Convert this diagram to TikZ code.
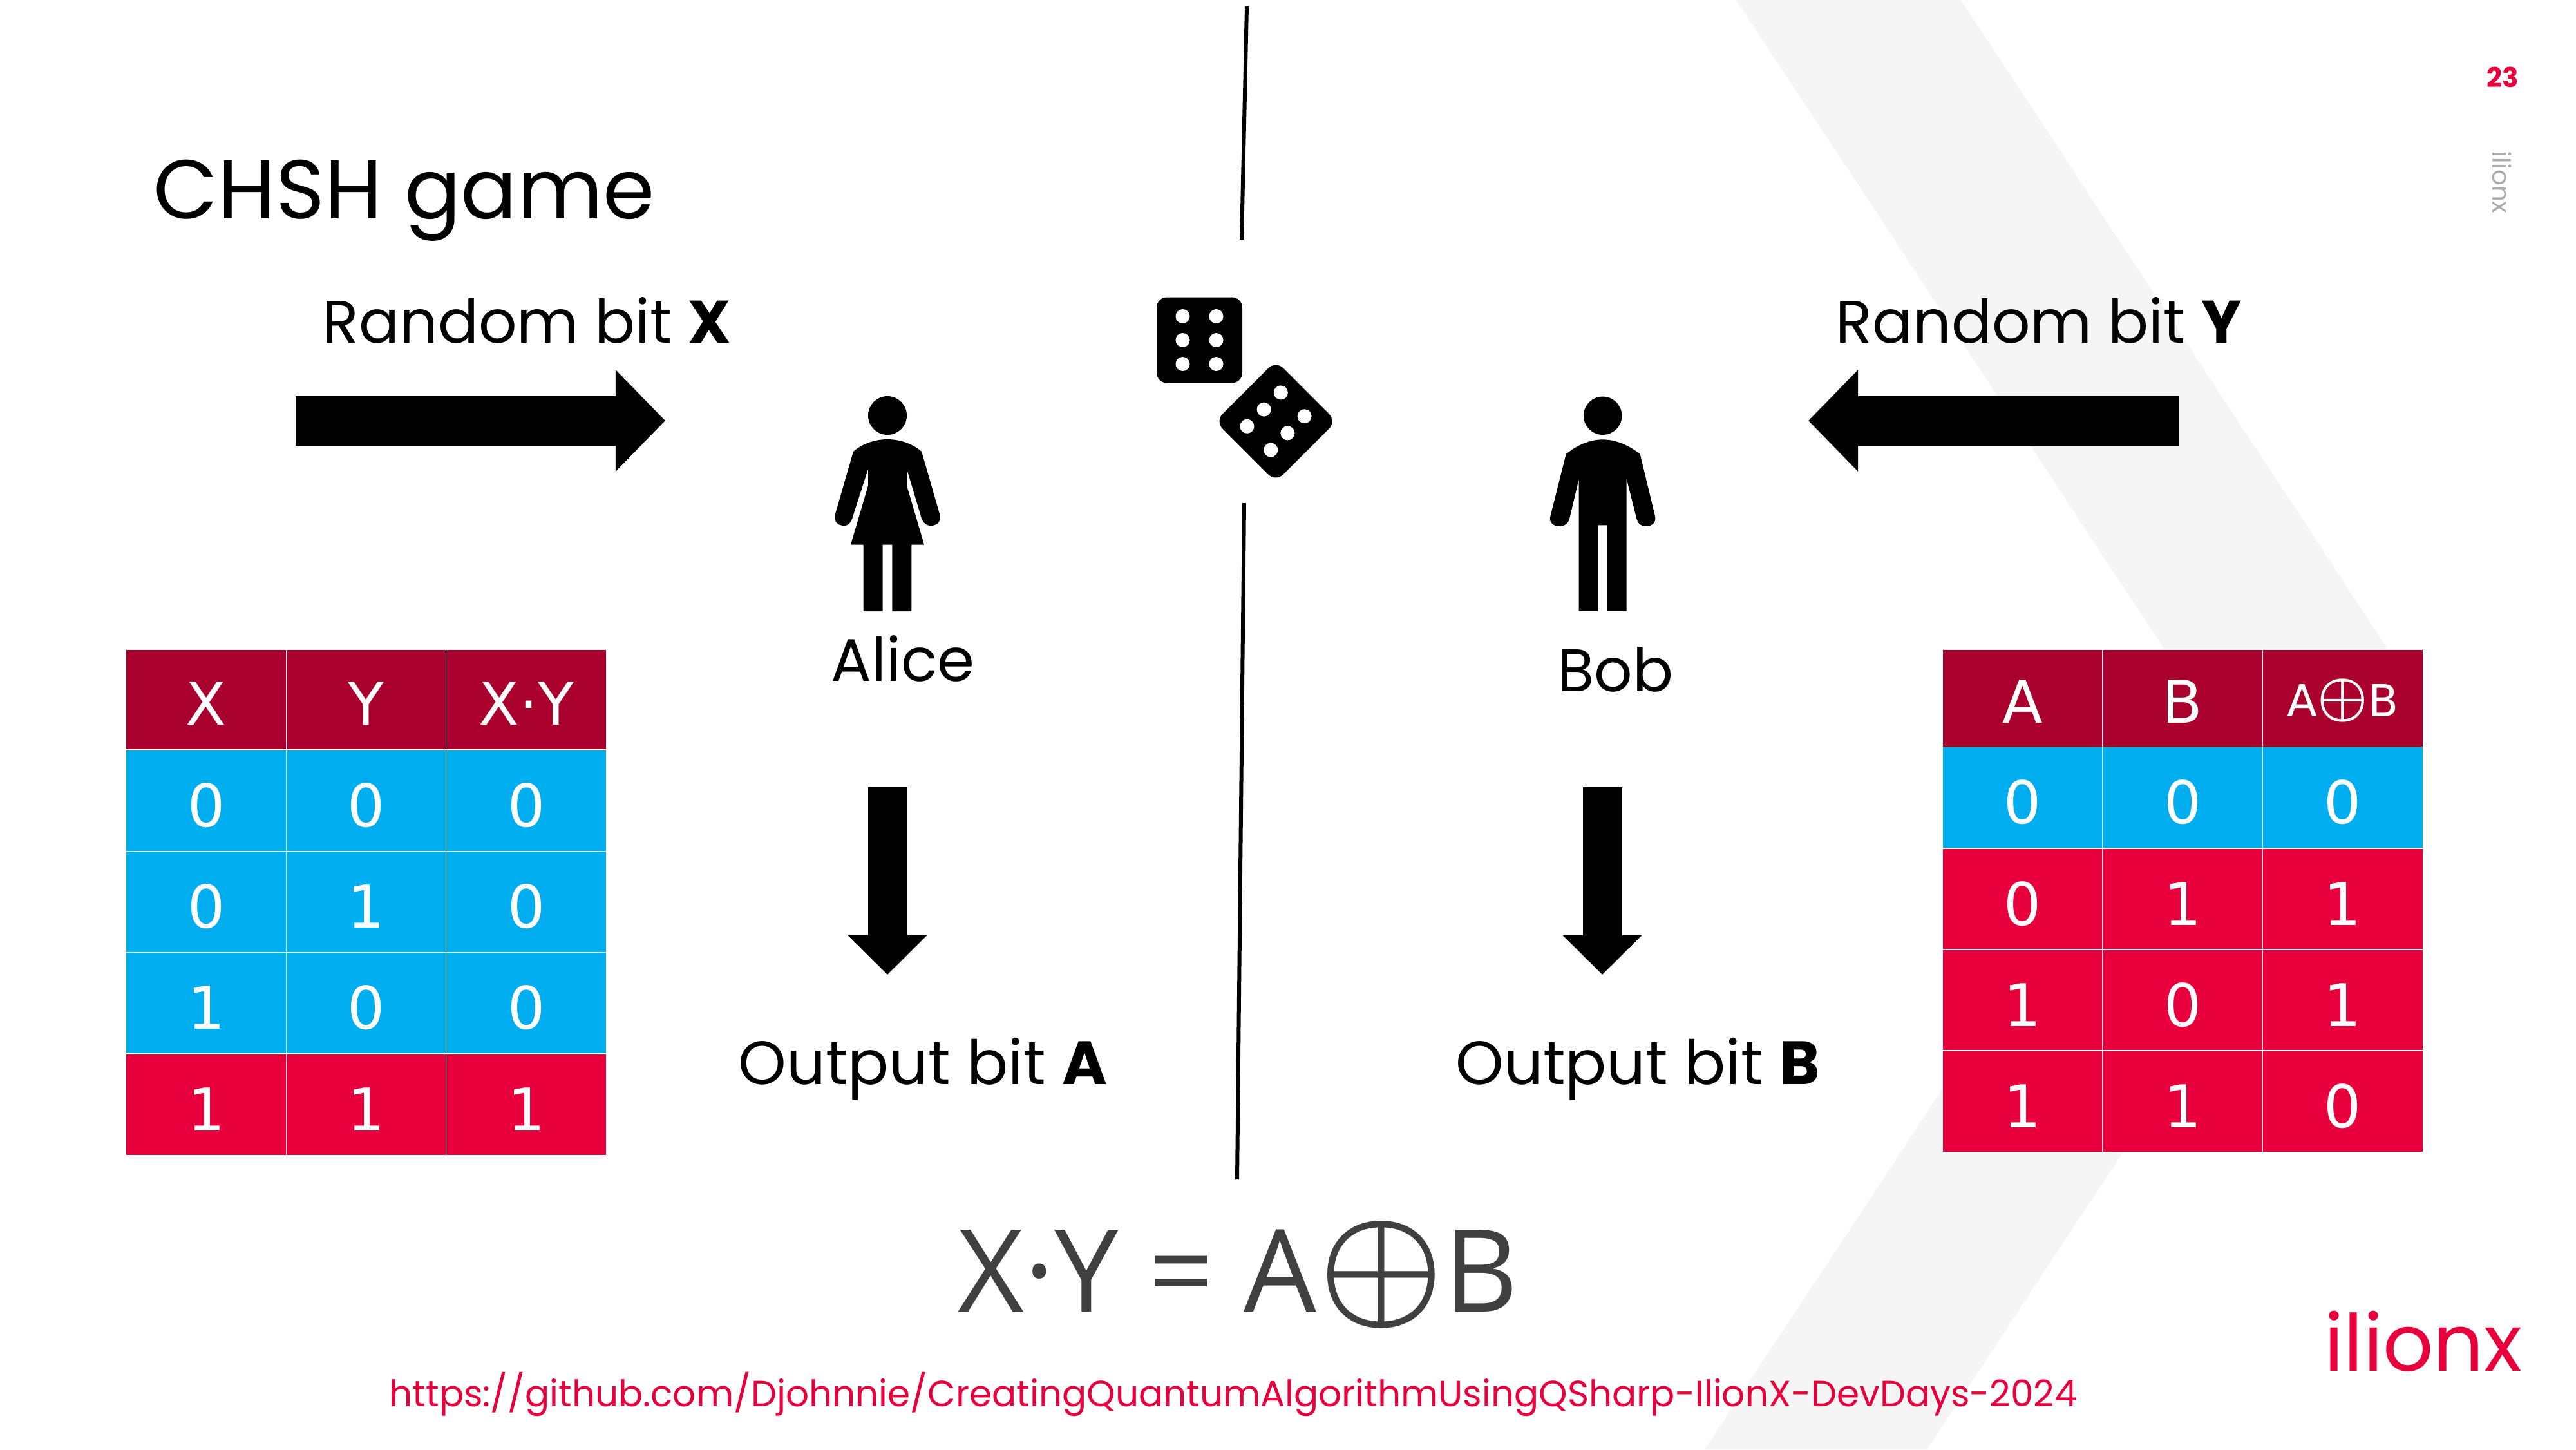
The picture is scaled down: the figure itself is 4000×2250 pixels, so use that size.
\documentclass[tikz,border=0pt]{standalone}
\usepackage{fontspec}
\usepackage{xcolor}
\usetikzlibrary{arrows.meta}
\setmainfont{Poppins}
\newfontfamily\cellfont{DejaVu Sans}
\newfontfamily\formulafont{Open Sans}
\definecolor{ilionxred}{HTML}{E8003C}
\definecolor{headred}{HTML}{AA002D}
\definecolor{cellblue}{HTML}{00AEEF}
\definecolor{chevrongray}{HTML}{F5F5F5}
\definecolor{formulagray}{HTML}{404040}
\tikzset{
  headcell/.style={draw=white, line width=.3pt, fill=headred, text=white, inner sep=0pt,
    minimum width=2.487cm, text height=.78cm, text depth=0pt, font=\cellfont\fontsize{26}{30}\selectfont},
  bluecell/.style={headcell, fill=cellblue, minimum height=1.57cm, text height=.81cm},
  redcell/.style={bluecell, fill=ilionxred},
  label/.style={anchor=base west, inner sep=0pt, font=\fontsize{26.5}{32}\selectfont},
  outlabel/.style={label, font=\fontsize{27}{32}\selectfont},
  bigarrow/.style={line width=.77cm, -{Triangle[length=.77cm,width=1.53cm]}},
  downarrow/.style={line width=.61cm, -{Triangle[length=.61cm,width=1.19cm]}},
  divider/.style={line width=.06cm}
}
\newcommand{\dicedots}{
  \fill[rounded corners=.16cm] (-66.5,-66.5) rectangle (66.5,66.5);
  \fill[white] (-26,-37) circle (11);
  \fill[white] (26,-37) circle (11);
  \fill[white] (-26,0) circle (11);
  \fill[white] (26,0) circle (11);
  \fill[white] (-26,37) circle (11);
  \fill[white] (26,37) circle (11);
}
\newcommand{\ringplus}[2]{\raisebox{#2}{\scalebox{#1}{\fontsize{10}{12}\selectfont\boldmath$\oplus$}}}
\begin{document}
\begin{tikzpicture}[x=.01cm,y=-.01cm]
 \useasboundingbox (0,0) rectangle (4000,2250);
 % background chevron
 \fill[chevrongray] (2696,0) -- (3045,0) -- (3760,1087) -- (2992,2250) -- (2647,2250) -- (3414,1088) -- cycle;

 % titles
 \node[label, font=\fontsize{36.8}{42}\selectfont] (title) at (238,339) {CHSH game};
 \node[label, text=ilionxred, font=\bfseries\fontsize{12}{14}\selectfont] (pagenum) at (3861,135) {23};
 \node[rotate=-90, text=black!33, font=\fontsize{11}{13}\selectfont] (sidelogo) at (3885,283) {ilionx};
 \node[label, text=ilionxred, font=\fontsize{34.9}{40}\selectfont] (logo) at (3609,2128) {ilionx};

 % labels
 \node[label] (randx) at (500,532) {Random bit \textbf{X}};
 \node[label] (randy) at (2850,532) {Random bit \textbf{Y}};
 \node[label] (alice) at (1290,1057) {Alice};
 \node[label] (bob) at (2418,1073) {Bob};
 \node[outlabel] (outa) at (1146,1683) {Output bit \textbf{A}};
 \node[outlabel] (outb) at (2260,1683) {Output bit \textbf{B}};

 % arrows
 \coordinate (xtail) at (459,653);
 \coordinate (xtip) at (1033,653);
 \coordinate (ytail) at (3384,653);
 \coordinate (ytip) at (2808,653);
 \coordinate (atail) at (1378,1222);
 \coordinate (atip) at (1378,1513);
 \coordinate (btail) at (2488,1222);
 \coordinate (btip) at (2488,1513);
 \draw[bigarrow] (xtail) -- (xtip);
 \draw[bigarrow] (ytail) -- (ytip);
 \draw[downarrow] (atail) -- (atip);
 \draw[downarrow] (btail) -- (btip);

 % divider
 \coordinate (walla) at (1936,10);
 \coordinate (wallb) at (1928,372);
 \coordinate (wallc) at (1932,781);
 \coordinate (walld) at (1921,1831);
 \draw[divider] (walla) -- (wallb);
 \draw[divider] (wallc) -- (walld);

 % dice
 \begin{scope}[shift={(1862.5,528)}]
  \dicedots
 \end{scope}
 \begin{scope}[shift={(1981,654)},rotate=-45]
  \dicedots
 \end{scope}

 % alice
 \fill (1378,645) circle (30);
 \fill (1325,701) .. controls (1340,688) and (1360,682) .. (1378,682) .. controls (1396,682) and (1416,688) .. (1431,701)
  -- (1459,798) .. controls (1462,810) and (1455,816) .. (1445,816) .. controls (1436,816) and (1431,808) .. (1429,798)
  -- (1408,728) -- (1408,754) -- (1435,845.5) -- (1415.3,845.5) -- (1415.3,949) -- (1385.3,949) -- (1385.3,845.5)
  -- (1370.7,845.5) -- (1370.7,949) -- (1340.7,949) -- (1340.7,845.5) -- (1321,845.5) -- (1348,754) -- (1348,728)
  -- (1325.4,798) .. controls (1323,808) and (1319,816) .. (1311,816) .. controls (1301,816) and (1294,810) .. (1297,798) -- cycle;

 % bob
 \fill (2488.7,645.3) circle (29.7);
 \fill (2431.7,705) .. controls (2450,690) and (2470,682.3) .. (2488.7,682.3) .. controls (2507,682.3) and (2528,690) .. (2546.7,705)
  -- (2570,801.7) .. controls (2572,811) and (2565,817) .. (2555.7,817) .. controls (2548,817) and (2543,812) .. (2541.7,806.7)
  -- (2525.7,743.3) -- (2525.7,948.7) -- (2496,948.7) -- (2496,815.3) -- (2481.3,815.3) -- (2481.3,948.7) -- (2451.7,948.7)
  -- (2451.7,743.3) -- (2436.7,806.7) .. controls (2435,812) and (2430,817) .. (2421.7,817) .. controls (2412,817) and (2405,811) .. (2407.3,801.7) -- cycle;

 % left table
 \node[headcell, minimum height=1.56cm] (xhead) at (320.3,1086) {X};
 \node[headcell, minimum height=1.56cm] (yhead) at (568.8,1086) {Y};
 \node[headcell, minimum height=1.56cm] (xyhead) at (817.3,1086) {X·Y};
 \node[bluecell] (xa) at (320.3,1242.5) {0};
 \node[bluecell] (ya) at (568.8,1242.5) {0};
 \node[bluecell] (xya) at (817.3,1242.5) {0};
 \node[bluecell] (xb) at (320.3,1400) {0};
 \node[bluecell] (yb) at (568.8,1400) {1};
 \node[bluecell] (xyb) at (817.3,1400) {0};
 \node[bluecell] (xc) at (320.3,1557) {1};
 \node[bluecell] (yc) at (568.8,1557) {0};
 \node[bluecell] (xyc) at (817.3,1557) {0};
 \node[redcell] (xd) at (320.3,1714.5) {1};
 \node[redcell] (yd) at (568.8,1714.5) {1};
 \node[redcell] (xyd) at (817.3,1714.5) {1};

 % right table
 \node[headcell, minimum height=1.51cm] (ahead) at (3140.5,1083.5) {A};
 \node[headcell, minimum height=1.51cm] (bhead) at (3389.3,1083.5) {B};
 \node[headcell, minimum height=1.51cm, text height=.58cm, font=\cellfont\fontsize{19.5}{24}\selectfont] (abhead) at (3638,1083.5) {A\ringplus{2.5}{.85pt}B};
 \node[bluecell] (aa) at (3140.5,1238) {0};
 \node[bluecell] (ba) at (3389.3,1238) {0};
 \node[bluecell] (aba) at (3638,1238) {0};
 \node[redcell] (ab) at (3140.5,1395.5) {0};
 \node[redcell] (bb) at (3389.3,1395.5) {1};
 \node[redcell] (abb) at (3638,1395.5) {1};
 \node[redcell] (ac) at (3140.5,1552.5) {1};
 \node[redcell] (bc) at (3389.3,1552.5) {0};
 \node[redcell] (abc) at (3638,1552.5) {1};
 \node[redcell] (ad) at (3140.5,1709.5) {1};
 \node[redcell] (bd) at (3389.3,1709.5) {1};
 \node[redcell] (abd) at (3638,1709.5) {0};

 % formula and link
 \node[anchor=base west, inner sep=0pt, text=formulagray, font=\formulafont\fontsize{50.6}{60}\selectfont] (formula) at (1487,2036)
  {X·Y = A\kern1pt\ringplus{6.2}{.7pt}B};
 \node[anchor=base west, inner sep=0pt, text=ilionxred, font=\fontsize{16.07}{20}\selectfont] (link) at (604,2183)
  {https://github.com/Djohnnie/CreatingQuantumAlgorithmUsingQSharp-IlionX-DevDays-2024};
\end{tikzpicture}
\end{document}
